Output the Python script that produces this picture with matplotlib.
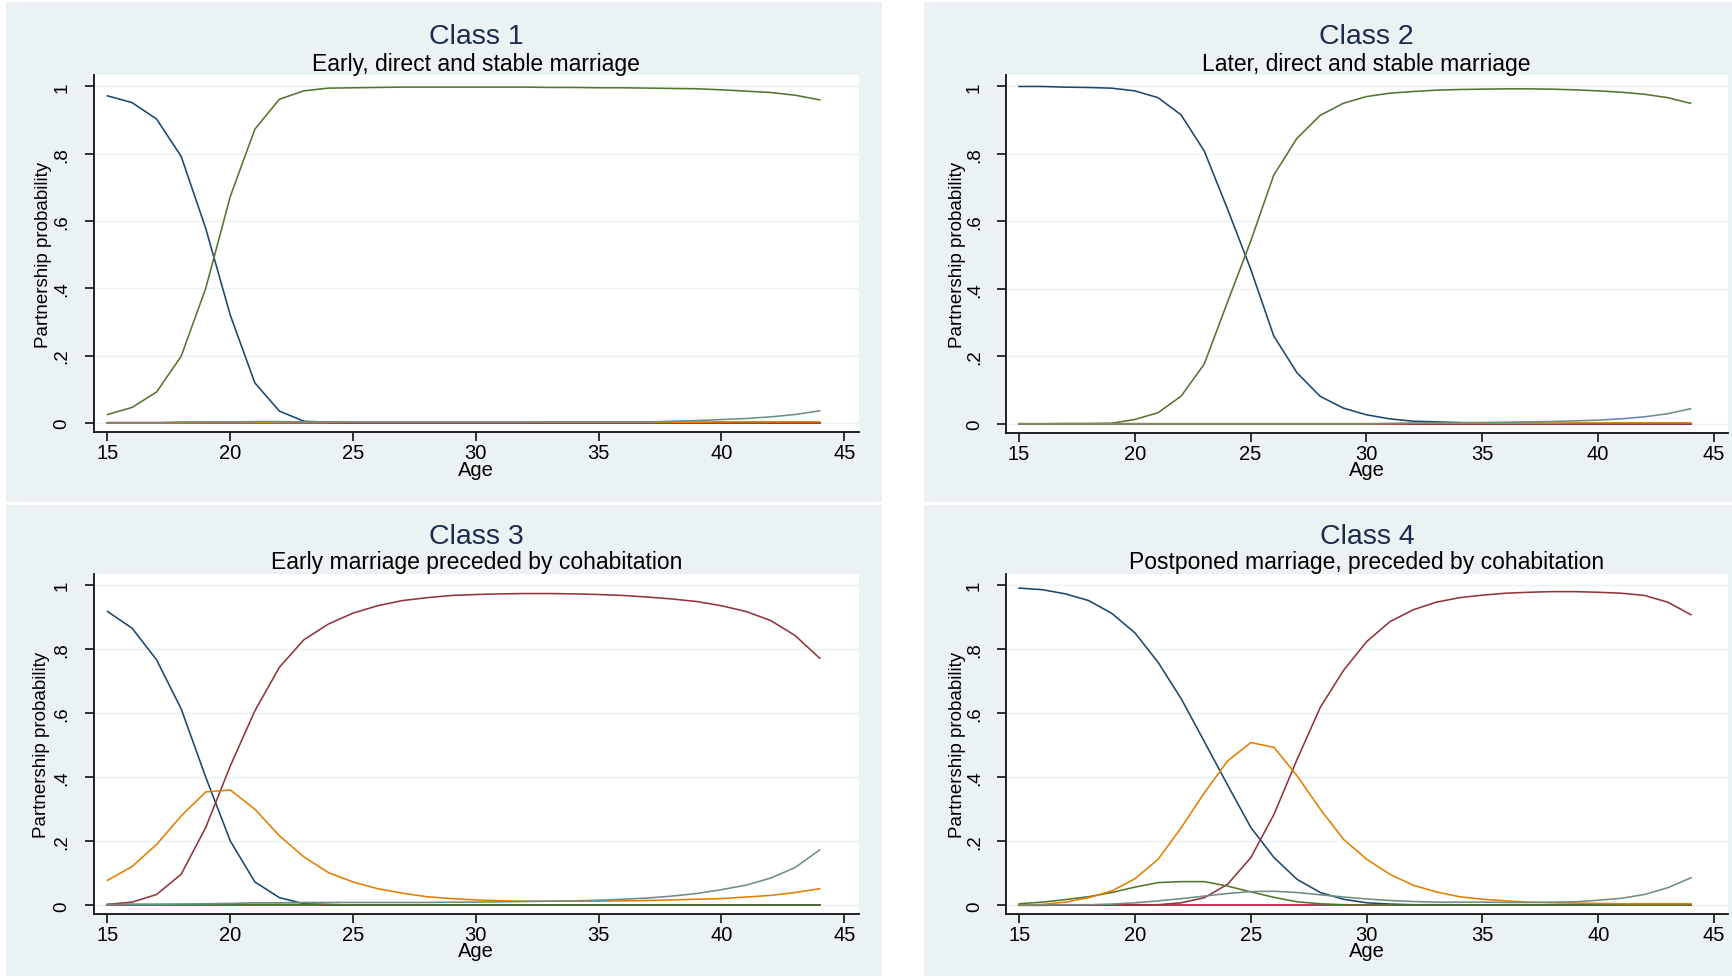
import matplotlib
matplotlib.use('Agg')
import matplotlib.pyplot as plt
from matplotlib.patches import Rectangle

plt.rcParams['font.family'] = ['Liberation Sans', 'DejaVu Sans']

W, H = 1732, 978

ages = list(range(15, 45))

# class 1 - early, direct and stable marriage
single1 = [0.972, 0.952, 0.903, 0.792, 0.578, 0.320, 0.119, 0.035, 0.005, 0.002,
           0.001, 0.001, 0.001, 0.001, 0.001, 0.001, 0.001, 0.001, 0.001, 0.001,
           0.001, 0.001, 0.001, 0.001, 0.001, 0.001, 0.001, 0.001, 0.001, 0.001]
married1 = [0.025, 0.046, 0.092, 0.198, 0.400, 0.673, 0.873, 0.962, 0.987, 0.995,
            0.996, 0.997, 0.998, 0.998, 0.998, 0.998, 0.998, 0.998, 0.997, 0.997,
            0.996, 0.996, 0.995, 0.994, 0.993, 0.990, 0.986, 0.982, 0.974, 0.960]
cohab_mar1 = [0.001] * 30
cohab1 = [0.000, 0.000, 0.000, 0.000, 0.001, 0.002, 0.002, 0.002, 0.002, 0.002,
          0.002, 0.002, 0.002, 0.002, 0.002, 0.002, 0.002, 0.002, 0.002, 0.002,
          0.002, 0.002, 0.002, 0.002, 0.002, 0.003, 0.003, 0.003, 0.003, 0.003]
sep1 = [0.000, 0.000, 0.000, 0.003, 0.003, 0.003, 0.004, 0.004, 0.003, 0.003,
        0.002, 0.002, 0.002, 0.002, 0.002, 0.002, 0.002, 0.002, 0.003, 0.003,
        0.003, 0.003, 0.003, 0.005, 0.007, 0.010, 0.013, 0.018, 0.025, 0.036]
other1 = [0.001, 0.001, 0.001, 0.001, 0.001, 0.003, 0.003, 0.003, 0.003, 0.001,
          0.001, 0.001, 0.001, 0.001, 0.001, 0.001, 0.001, 0.001, 0.001, 0.001,
          0.001, 0.001, 0.001, 0.001, 0.001, 0.001, 0.001, 0.001, 0.001, 0.001]

# class 2 - later, direct and stable marriage
single2 = [1.000, 1.000, 0.998, 0.997, 0.995, 0.987, 0.967, 0.916, 0.809, 0.638,
           0.460, 0.261, 0.152, 0.082, 0.047, 0.027, 0.015, 0.008, 0.006, 0.004,
           0.003, 0.002, 0.002, 0.001, 0.001, 0.001, 0.001, 0.001, 0.001, 0.001]
married2 = [0.000, 0.000, 0.001, 0.001, 0.002, 0.013, 0.033, 0.082, 0.177, 0.360,
            0.540, 0.737, 0.846, 0.914, 0.950, 0.970, 0.980, 0.985, 0.989, 0.991,
            0.992, 0.993, 0.993, 0.992, 0.990, 0.987, 0.983, 0.977, 0.967, 0.950]
cohab_mar2 = [0.001] * 30
cohab2 = [0.001, 0.001, 0.001, 0.001, 0.001, 0.001, 0.001, 0.001, 0.001, 0.001,
          0.001, 0.001, 0.001, 0.001, 0.001, 0.001, 0.001, 0.002, 0.002, 0.002,
          0.002, 0.002, 0.002, 0.002, 0.003, 0.003, 0.003, 0.003, 0.003, 0.003]
sep2 = [0.000, 0.000, 0.000, 0.000, 0.000, 0.000, 0.000, 0.000, 0.000, 0.000,
        0.000, 0.000, 0.000, 0.000, 0.000, 0.000, 0.001, 0.002, 0.003, 0.003,
        0.004, 0.005, 0.006, 0.007, 0.009, 0.011, 0.015, 0.021, 0.030, 0.045]
other2 = [0.001] * 30

# class 3 - early marriage preceded by cohabitation
single3 = [0.917, 0.865, 0.766, 0.613, 0.400, 0.201, 0.073, 0.024, 0.005, 0.002,
           0.001, 0.001, 0.001, 0.001, 0.001, 0.001, 0.001, 0.001, 0.001, 0.001,
           0.001, 0.001, 0.001, 0.001, 0.001, 0.001, 0.001, 0.001, 0.001, 0.001]
cohab_mar3 = [0.003, 0.010, 0.034, 0.097, 0.243, 0.435, 0.607, 0.743, 0.829, 0.878,
              0.912, 0.935, 0.951, 0.960, 0.967, 0.970, 0.972, 0.973, 0.973, 0.972,
              0.970, 0.967, 0.962, 0.956, 0.948, 0.935, 0.917, 0.889, 0.842, 0.771]
married3 = [0.003, 0.003, 0.003, 0.003, 0.003, 0.004, 0.003, 0.003, 0.003, 0.003,
            0.001, 0.001, 0.001, 0.001, 0.001, 0.001, 0.001, 0.001, 0.001, 0.001,
            0.001, 0.001, 0.001, 0.001, 0.001, 0.001, 0.001, 0.001, 0.001, 0.001]
cohab3 = [0.078, 0.121, 0.190, 0.279, 0.354, 0.360, 0.300, 0.217, 0.151, 0.102,
          0.073, 0.052, 0.038, 0.027, 0.021, 0.017, 0.014, 0.013, 0.013, 0.013,
          0.013, 0.014, 0.015, 0.017, 0.019, 0.021, 0.026, 0.031, 0.040, 0.052]
sep3 = [0.002, 0.003, 0.003, 0.004, 0.005, 0.006, 0.008, 0.008, 0.009, 0.009,
        0.009, 0.009, 0.009, 0.009, 0.010, 0.010, 0.011, 0.012, 0.013, 0.014,
        0.016, 0.019, 0.023, 0.029, 0.037, 0.049, 0.063, 0.085, 0.118, 0.173]
other3 = [0.001] * 30

# class 4 - postponed marriage, preceded by cohabitation
single4 = [0.990, 0.985, 0.972, 0.951, 0.911, 0.850, 0.758, 0.644, 0.510, 0.375,
           0.243, 0.149, 0.081, 0.040, 0.019, 0.008, 0.004, 0.002, 0.002, 0.002,
           0.001, 0.001, 0.001, 0.001, 0.001, 0.001, 0.001, 0.001, 0.001, 0.001]
cohab_mar4 = [0.000, 0.000, 0.001, 0.001, 0.001, 0.002, 0.002, 0.008, 0.024, 0.066,
              0.149, 0.284, 0.456, 0.618, 0.733, 0.823, 0.885, 0.922, 0.946, 0.960,
              0.968, 0.974, 0.977, 0.979, 0.979, 0.977, 0.974, 0.967, 0.946, 0.907]
married4 = [0.005, 0.010, 0.018, 0.027, 0.040, 0.057, 0.071, 0.074, 0.074, 0.060,
            0.042, 0.025, 0.011, 0.005, 0.002, 0.001, 0.001, 0.001, 0.001, 0.001,
            0.001, 0.001, 0.001, 0.001, 0.001, 0.001, 0.001, 0.001, 0.001, 0.001]
cohab4 = [0.000, 0.003, 0.010, 0.024, 0.045, 0.083, 0.144, 0.243, 0.352, 0.451,
          0.508, 0.493, 0.404, 0.300, 0.206, 0.144, 0.097, 0.063, 0.042, 0.027,
          0.019, 0.014, 0.010, 0.008, 0.007, 0.006, 0.005, 0.005, 0.005, 0.005]
sep4 = [0.001, 0.001, 0.002, 0.002, 0.004, 0.008, 0.014, 0.021, 0.029, 0.037,
        0.043, 0.044, 0.040, 0.033, 0.026, 0.020, 0.015, 0.012, 0.010, 0.010,
        0.010, 0.009, 0.009, 0.010, 0.011, 0.016, 0.022, 0.034, 0.055, 0.086]
other4 = [0.001] * 30

titles = ['Class 1', 'Class 2', 'Class 3', 'Class 4']
subtitles = ['Early, direct and stable marriage',
             'Later, direct and stable marriage',
             'Early marriage preceded by cohabitation',
             'Postponed marriage, preceded by cohabitation']

# order: other first so it sits underneath the rest near zero
classes = [
    [other1, single1, cohab_mar1, married1, cohab1, sep1],
    [other2, single2, cohab_mar2, married2, cohab2, sep2],
    [other3, single3, cohab_mar3, married3, cohab3, sep3],
    [other4, single4, cohab_mar4, married4, cohab4, sep4],
]

# stata s2color palette
colors = ['#c10534', '#1a476f', '#90353b', '#55752f', '#e37e00', '#6e8e84']
BG = '#eaf2f3'

# pixel boxes: panel background and plot region (left, right, top, bottom)
panels = [(6, 882, 3, 503), (924, 1732, 3, 503), (6, 882, 506, 977), (924, 1732, 506, 977)]
plots = [(93.5, 859, 76, 433), (1005.7, 1727.7, 76, 434),
         (93.5, 859, 575, 915), (1006, 1728, 575, 915)]
title_y = [44, 44, 544, 544]
sub_y = [71, 71, 569, 569]
ylab_x = [43, 957, 42, 958]

fig = plt.figure(figsize=(W / 100, H / 100), dpi=100, facecolor='white')

for i in range(4):
    l, r, t, b = panels[i]
    fig.patches.append(Rectangle((l / W, 1 - b / H), (r - l) / W, (b - t) / H,
                                 transform=fig.transFigure, facecolor=BG,
                                 edgecolor='none', zorder=0))

for i in range(4):
    l, r, t, b = plots[i]
    ax = fig.add_axes([l / W, 1 - b / H, (r - l) / W, (b - t) / H], facecolor='white')
    ax.set_zorder(1)
    for k, ys in enumerate(classes[i]):
        ax.plot(ages, ys, color=colors[k], lw=1.15, zorder=3)
    ax.set_xlim(14.43, 45.6)
    ax.set_ylim(-0.027, 1.034)
    ax.set_xticks([15, 20, 25, 30, 35, 40, 45])
    ax.set_yticks([0, 0.2, 0.4, 0.6, 0.8, 1])
    ax.set_yticklabels(['0', '.2', '.4', '.6', '.8', '1'], rotation=90, va='center')
    ax.grid(axis='y', color=BG, lw=1.0, zorder=1)
    ax.spines['top'].set_visible(False)
    ax.spines['right'].set_visible(False)
    for s in ['left', 'bottom']:
        ax.spines[s].set_linewidth(1.3)
        ax.spines[s].set_color('#111111')
    ax.tick_params(axis='x', length=6.5, width=1.2, pad=1.5, labelsize=14.5, color='#111111')
    ax.tick_params(axis='y', length=6.5, width=1.2, pad=10, labelsize=13.5, color='#111111')

    ax.set_xlabel('Age', fontsize=14.5)
    ax.xaxis.label.set_va('center')
    ax.xaxis.set_label_coords(0.5, -37 / (b - t))
    ax.set_ylabel('Partnership probability', fontsize=13.5)
    ax.yaxis.label.set_va('center')
    ax.yaxis.set_label_coords((ylab_x[i] - l) / (r - l), 0.5)

    cx = (l + r) / 2 / W
    fig.text(cx, 1 - title_y[i] / H, titles[i], ha='center', va='baseline',
             fontsize=20.5, color='#1c2b4f')
    fig.text(cx, 1 - sub_y[i] / H, subtitles[i], ha='center', va='baseline',
             fontsize=16.5, color='black')

fig.savefig('out.png', dpi=100, facecolor='white')
